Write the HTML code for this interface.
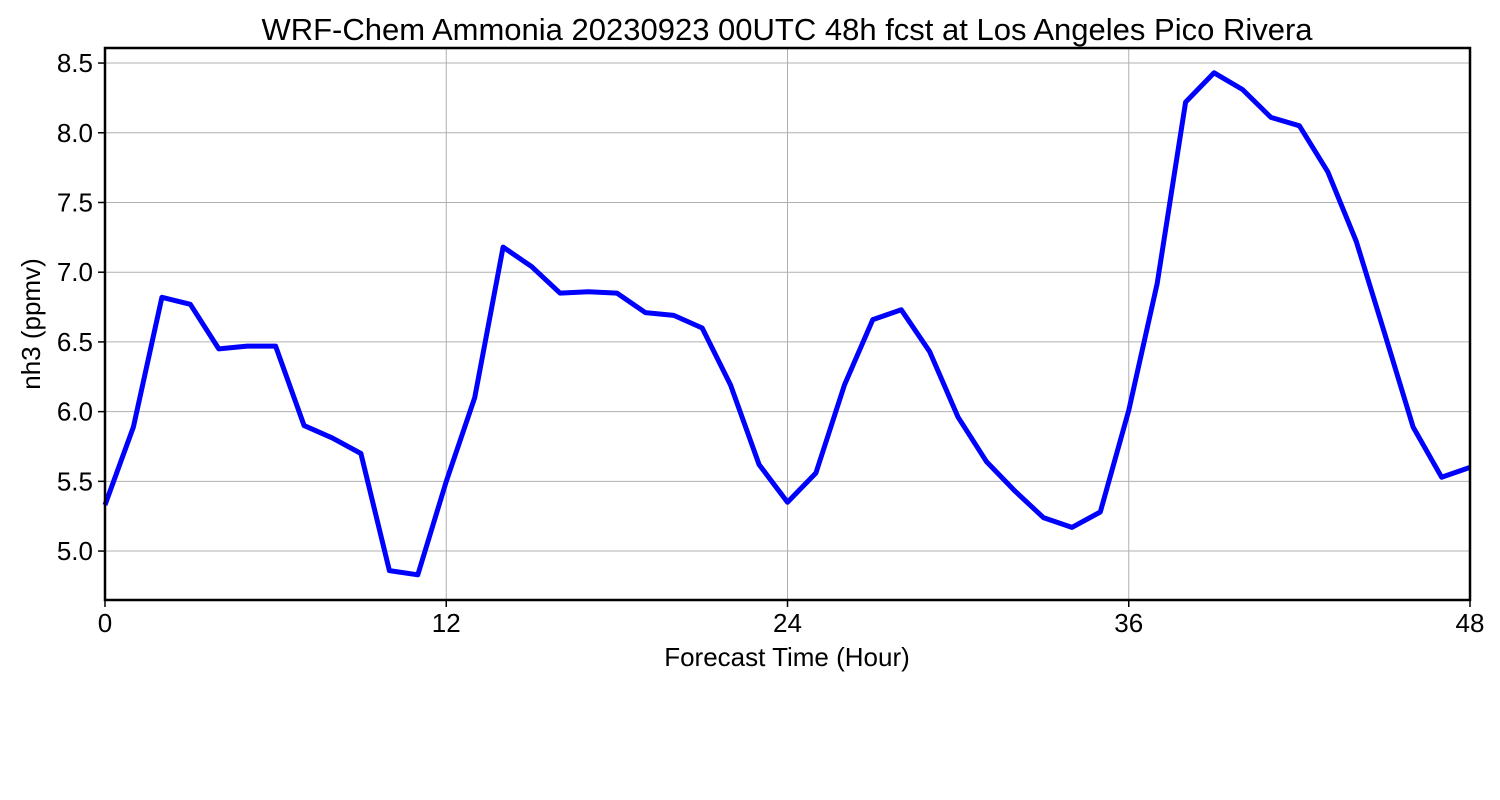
<!DOCTYPE html>
<html><head><meta charset="utf-8"><style>
html,body{margin:0;padding:0;background:#fff;width:1500px;height:800px;overflow:hidden}
svg{font-family:"Liberation Sans","DejaVu Sans",sans-serif}
</style></head><body>
<svg id="chart" width="1500" height="800" xmlns="http://www.w3.org/2000/svg">
<text x="787" y="40" font-size="31" text-anchor="middle">WRF-Chem Ammonia  20230923 00UTC 48h fcst at Los Angeles Pico Rivera</text>
<g id="grid"></g>
<g id="ticks"></g>
<path id="line" fill="none" stroke="#0000ff" stroke-width="5" stroke-linejoin="round"/>
<rect x="105" y="48" width="1365" height="552" fill="none" stroke="#000" stroke-width="2.5"/>
<text x="787" y="666" font-size="26" text-anchor="middle">Forecast Time (Hour)</text>
<text transform="translate(40,324) rotate(-90)" font-size="26" text-anchor="middle">nh3  (ppmv)</text>
</svg>
<script>
const hours=[0,1,2,3,4,5,6,7,8,9,10,11,12,13,14,15,16,17,18,19,20,21,22,23,24,25,26,27,28,29,30,31,32,33,34,35,36,37,38,39,40,41,42,43,44,45,46,47,48];
const values=[5.33,5.89,6.82,6.77,6.45,6.47,6.47,5.90,5.81,5.70,4.86,4.83,5.50,6.10,7.18,7.04,6.85,6.86,6.85,6.71,6.69,6.60,6.19,5.62,5.35,5.56,6.19,6.66,6.73,6.43,5.96,5.64,5.43,5.24,5.17,5.28,6.01,6.92,8.22,8.43,8.31,8.11,8.05,7.72,7.22,6.56,5.89,5.53,5.60];
const xTicks=[0,12,24,36,48];
const yTicks=[5.0,5.5,6.0,6.5,7.0,7.5,8.0,8.5];
const X0=105,X1=1470,Y0=600,Y1=48,xMin=0,xMax=48,yMin=4.649,yMax=8.608;
const xs=v=>X0+(v-xMin)/(xMax-xMin)*(X1-X0);
const ys=v=>Y0-(v-yMin)/(yMax-yMin)*(Y0-Y1);
const NS="http://www.w3.org/2000/svg";
const grid=document.getElementById('grid'),ticks=document.getElementById('ticks');
function mk(tag,attrs,parent){const e=document.createElementNS(NS,tag);for(const k in attrs)e.setAttribute(k,attrs[k]);parent.appendChild(e);return e;}
xTicks.forEach(t=>{
  const x=xs(t);
  const g=mk('line',{x1:x,x2:x,y1:Y1,y2:Y0,stroke:'#b0b0b0','stroke-width':1},grid);
  
  
  const tk=mk('line',{x1:x,x2:x,y1:Y0,y2:Y0+7,stroke:'#000','stroke-width':1.5},ticks);
  
  
  const tx=mk('text',{x:x,y:Y0+32,'font-size':26,'text-anchor':'middle'},ticks);
  tx.textContent=t;
  
  
});
yTicks.forEach(t=>{
  const y=ys(t);
  const g=mk('line',{x1:X0,x2:X1,y1:y,y2:y,stroke:'#b0b0b0','stroke-width':1},grid);
  
  
  const tk=mk('line',{x1:X0-7,x2:X0,y1:y,y2:y,stroke:'#000','stroke-width':1.5},ticks);
  
  
  const tx=mk('text',{x:X0-12,y:y+9,'font-size':26,'text-anchor':'end'},ticks);
  tx.textContent=t.toFixed(1);
  
  
});
document.getElementById('line').setAttribute('d',hours.map((h,i)=>(i?'L':'M')+xs(h).toFixed(1)+','+ys(values[i]).toFixed(1)).join(' '));
</script>
</body></html>
